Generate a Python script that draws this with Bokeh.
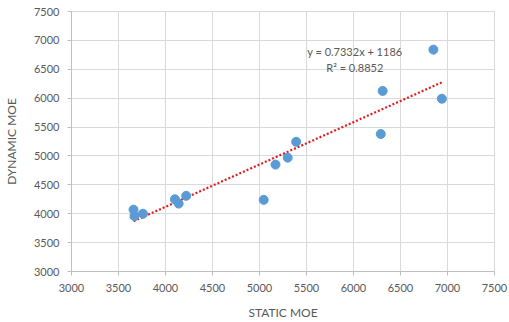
from bokeh.plotting import figure
from bokeh.models import Range1d, FixedTicker, Label, ColumnDataSource
from bokeh.embed import file_html
from bokeh.resources import INLINE

# Data
static_moe = [3660, 3670, 3760, 4100, 4140, 4220, 5045, 5170, 5300, 5390, 6290, 6310, 6850, 6940]
dynamic_moe = [4070, 3960, 4000, 4250, 4175, 4310, 4240, 4850, 4970, 5245, 5380, 6125, 6840, 5990]
slope = 0.7332
intercept = 1186
r_squared = 0.8852
x_ticks = [3000, 3500, 4000, 4500, 5000, 5500, 6000, 6500, 7000, 7500]
y_ticks = [3000, 3500, 4000, 4500, 5000, 5500, 6000, 6500, 7000, 7500]

FONT = "Lato"
GREY = "#595959"

p = figure(width=509, height=322, output_backend="svg", toolbar_location=None,
           x_range=Range1d(3000, 7500), y_range=Range1d(3000, 7500),
           min_border_left=67, min_border_right=15, min_border_top=11, min_border_bottom=51)
p.background_fill_color = "white"
p.border_fill_color = "white"
p.outline_line_color = "#d9d9d9"

for ax, ticks in ((p.xaxis[0], x_ticks), (p.yaxis[0], y_ticks)):
    ax.ticker = FixedTicker(ticks=ticks)
    ax.axis_line_color = "#bfbfbf"
    ax.major_tick_line_color = "#bfbfbf"
    ax.major_tick_in = 0
    ax.major_tick_out = 4
    ax.minor_tick_line_color = None
    ax.major_label_text_font = FONT
    ax.major_label_text_font_size = "11px"
    ax.major_label_text_color = GREY
    ax.axis_label_text_font = FONT
    ax.axis_label_text_font_size = "12px"
    ax.axis_label_text_color = GREY
    ax.axis_label_text_font_style = "normal"

p.xaxis.axis_label = "STATIC MOE"
p.yaxis.axis_label = "DYNAMIC MOE"
p.xaxis.major_label_standoff = 8
p.yaxis.major_label_standoff = 8
p.xaxis.axis_label_standoff = 10
p.yaxis.axis_label_standoff = 12

p.xgrid.ticker = FixedTicker(ticks=x_ticks)
p.ygrid.ticker = FixedTicker(ticks=y_ticks)
p.grid.grid_line_color = "#d9d9d9"
p.grid.grid_line_width = 1

# Trendline from the stated equation across the data range
x0, x1 = min(static_moe), max(static_moe)
trend = ColumnDataSource(dict(x=[x0, x1], y=[slope * x0 + intercept, slope * x1 + intercept]))
p.line("x", "y", source=trend, line_color="#e31a1c", line_width=2.2, line_dash="2 2")

src = ColumnDataSource(dict(x=static_moe, y=dynamic_moe))
p.scatter("x", "y", source=src, size=9, fill_color="#5b9bd5", line_color="#5b9bd5")

eq = Label(x=6014, y=6806, text=f"y = {slope}x + {intercept}", text_font=FONT,
           text_font_size="11px", text_color=GREY, text_align="center", text_baseline="middle")
r2 = Label(x=6014, y=6529, text=f"R\u00b2 = {r_squared}", text_font=FONT,
           text_font_size="11px", text_color=GREY, text_align="center", text_baseline="middle")
p.add_layout(eq)
p.add_layout(r2)

open("out.html", "w").write(file_html(p, INLINE))
